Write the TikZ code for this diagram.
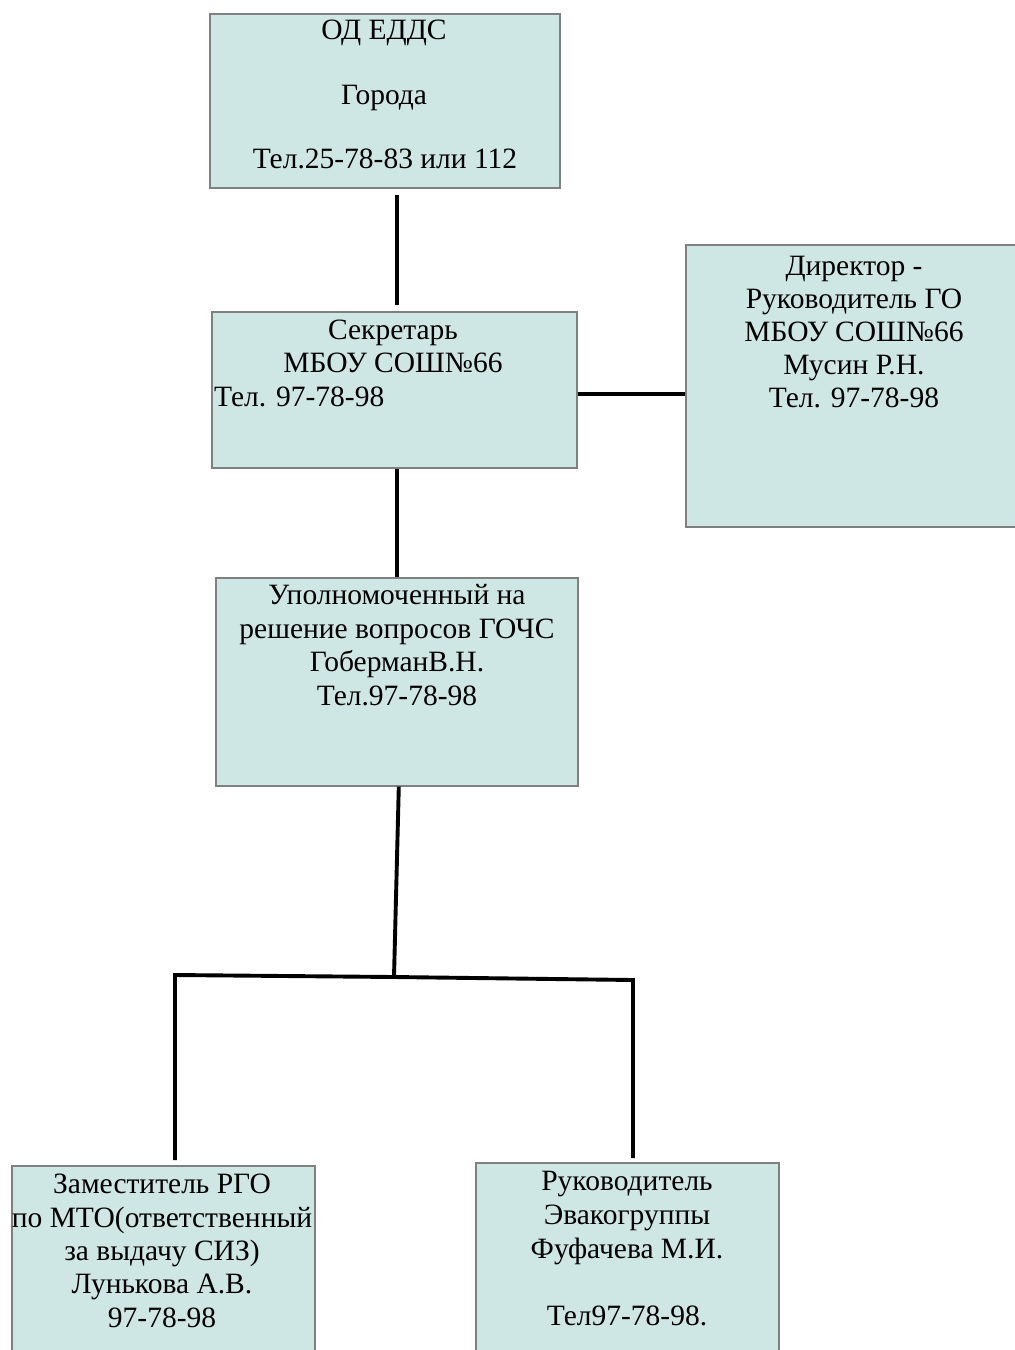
\documentclass[tikz,border=0pt]{standalone}
\usepackage{fontspec}
\setmainfont{Liberation Serif}
\definecolor{boxfill}{RGB}{207,231,228}
\definecolor{boxline}{RGB}{128,128,128}
\begin{document}
\begin{tikzpicture}[x=1pt,y=-1pt,
  orgbox/.style={draw=boxline,line width=1.6pt,fill=boxfill,rectangle,inner sep=0pt,anchor=north west},
  txt/.style={inner sep=0pt,anchor=base,font=\fontsize{29.5}{33}\selectfont},
  txtl/.style={txt,anchor=base west},
  conn/.style={draw=black,line width=3.9pt}]
\useasboundingbox (0,0) rectangle (1015,1350);
\clip (0,0) rectangle (1015,1350);
\fill[white] (0,0) rectangle (1015,1350);
% boxes
\node[orgbox,minimum width=350pt,minimum height=174pt] (b1) at (209,13) {};
\node[orgbox,minimum width=365pt,minimum height=156pt] (b2) at (211,311) {};
\node[orgbox,minimum width=338pt,minimum height=282pt] (b3) at (685,244) {};
\node[orgbox,minimum width=362pt,minimum height=208pt] (b4) at (215,577) {};
\node[orgbox,minimum width=303pt,minimum height=200pt] (b5) at (11,1165) {};
\node[orgbox,minimum width=303pt,minimum height=200pt] (b6) at (475,1162) {};
% texts
\node[txt] (t11) at (384,39) {ОД ЕДДС};
\node[txt] (t12) at (384,104) {Города};
\node[txt] (t13) at (385,168) {Тел.25-78-83 или 112};
\node[txt] (t21) at (393,339) {Секретарь};
\node[txt] (t22) at (393,372) {МБОУ СОШ№66};
\node[txtl] (t23) at (214,406) {Тел. 97-78-98};
\node[txt] (t31) at (854,275) {Директор -};
\node[txt] (t32) at (854,308) {Руководитель ГО};
\node[txt] (t33) at (854,341) {МБОУ СОШ№66};
\node[txt] (t34) at (854,374) {Мусин Р.Н.};
\node[txt] (t35) at (854,407) {Тел. 97-78-98};
\node[txt] (t41) at (397,604) {Уполномоченный на};
\node[txt] (t42) at (397,638) {решение вопросов ГОЧС};
\node[txt] (t43) at (397,671) {ГоберманВ.Н.};
\node[txt] (t44) at (397,705) {Тел.97-78-98};
\node[txt] (t51) at (162,1193) {Заместитель РГО};
\node[txt] (t52) at (162,1227) {по МТО(ответственный};
\node[txt] (t53) at (162,1260) {за выдачу СИЗ)};
\node[txt] (t54) at (162,1293) {Лунькова А.В.};
\node[txt] (t55) at (162,1327) {97-78-98};
\node[txt] (t61) at (627,1190) {Руководитель};
\node[txt] (t62) at (627,1224) {Эвакогруппы};
\node[txt] (t63) at (627,1258) {Фуфачева М.И.};
\node[txt] (t64) at (627,1325) {Тел97-78-98.};
% junction coordinates
\coordinate (j) at (394,977);
\coordinate (lc) at (175,975);
\coordinate (rc) at (633,980);
% connectors
\draw[conn,shorten <=6pt,shorten >=6pt] ([xshift=12pt]b1.south) -- ([xshift=2.5pt]b2.north);
\draw[conn] ([yshift=-4pt]b2.east) -- ([yshift=-4pt]b2.east -| b3.west);
\draw[conn] ([xshift=2.5pt]b2.south) -- (b4.north);
\draw[conn] ([xshift=2pt]b4.south) -- (j);
\draw[conn,line join=miter,shorten <=5pt] (lc |- b5.north) -- (lc) -- (j) -- (rc) -- ([yshift=4pt]rc |- b6.north);
\end{tikzpicture}
\end{document}
